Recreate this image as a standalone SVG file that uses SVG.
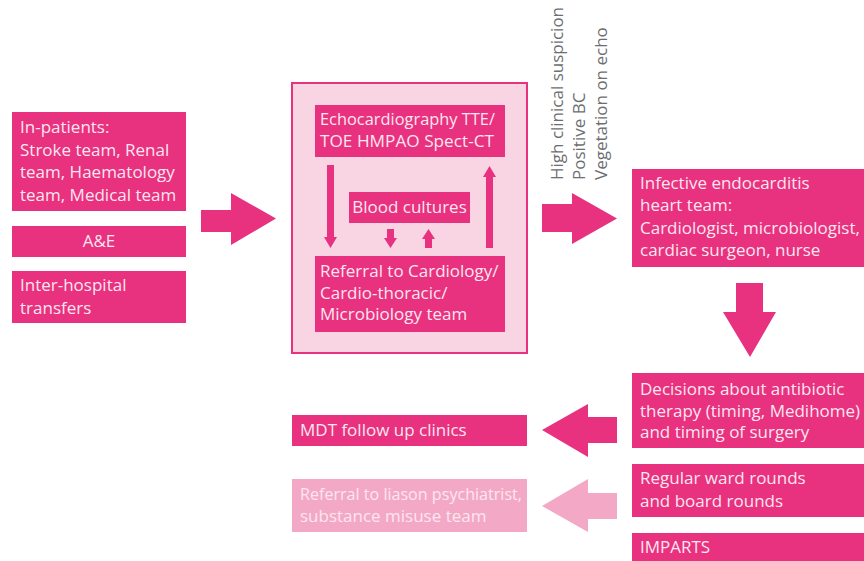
<svg xmlns="http://www.w3.org/2000/svg" width="864" height="561" viewBox="0 0 864 561">
<style>
.b{fill:#e8317f}
.lb{fill:#f3a9c5}
.t{font-family:"Open Sans","Liberation Sans",sans-serif;font-size:17px;fill:#fde6ef}
.g{font-family:"Open Sans","Liberation Sans",sans-serif;font-size:17px;fill:#6d6e71}
.a{fill:#e8317f}
.la{fill:#f3a9c5}
</style>
<rect width="864" height="561" fill="#ffffff"/>
<g id="inpatients"><rect class="b" x="12" y="112" width="174" height="99"/>
<text class="t" x="20" y="133">In-patients:<tspan x="20" dy="22.5">Stroke team, Renal</tspan><tspan x="20" dy="22.5">team, Haematology</tspan><tspan x="20" dy="22.5">team, Medical team</tspan></text></g>
<g id="ae"><rect class="b" x="12" y="226" width="174" height="31"/><text class="t" x="99" y="247" text-anchor="middle">A&amp;E</text></g>
<g id="interhospital"><rect class="b" x="12" y="271" width="174" height="52"/><text class="t" x="20" y="291">Inter-hospital<tspan x="20" dy="22.5">transfers</tspan></text></g>
<g id="workup">
<rect x="292" y="83" width="235" height="270" fill="#f9d5e4" stroke="#e8317f" stroke-width="2"/>
</g>
<g id="echo"><rect class="b" x="315" y="105" width="190" height="52"/><text class="t" x="320" y="125" textLength="175" lengthAdjust="spacingAndGlyphs">Echocardiography TTE/</text><text class="t" x="320" y="146.7" textLength="174" lengthAdjust="spacingAndGlyphs">TOE HMPAO Spect-CT</text></g>
<g id="blood"><rect class="b" x="349" y="192" width="121" height="31"/><text class="t" x="409.5" y="212.5" text-anchor="middle">Blood cultures</text></g>
<g id="referral"><rect class="b" x="315" y="256" width="190" height="76"/><text class="t" x="320" y="277">Referral to Cardiology/<tspan x="320" dy="21.7">Cardio-thoracic/</tspan><tspan x="320" dy="21.7">Microbiology team</tspan></text></g>
<g id="criteria"><text class="g" transform="translate(563,180) rotate(-90)">High clinical suspicion</text><text class="g" transform="translate(585,180) rotate(-90)">Positive BC</text><text class="g" transform="translate(607,180) rotate(-90)">Vegetation on echo</text></g>
<g id="ieteam"><rect class="b" x="632" y="169" width="232" height="98"/><text class="t" x="640" y="189">Infective endocarditis<tspan x="640" dy="22.3">heart team:</tspan><tspan x="640" dy="22.3">Cardiologist, microbiologist,</tspan><tspan x="640" dy="22.3">cardiac surgeon, nurse</tspan></text></g>
<g id="decisions"><rect class="b" x="632" y="373" width="232" height="75"/><text class="t" x="640" y="395">Decisions about antibiotic<tspan x="640" dy="21.7">therapy (timing, Medihome)</tspan><tspan x="640" dy="21.7">and timing of surgery</tspan></text></g>
<g id="wardrounds"><rect class="b" x="632" y="464" width="232" height="53"/><text class="t" x="640" y="484">Regular ward rounds<tspan x="640" dy="22.5">and board rounds</tspan></text></g>
<g id="imparts"><rect class="b" x="632" y="533" width="232" height="28"/><text class="t" x="640" y="553">IMPARTS</text></g>
<g id="mdt"><rect class="b" x="292" y="415" width="235" height="31"/><text class="t" x="300" y="436">MDT follow up clinics</text></g>
<g id="liaison"><rect class="lb" x="292" y="479" width="235" height="53"/><text class="t" x="300" y="500" textLength="222" lengthAdjust="spacingAndGlyphs">Referral to liason psychiatrist,</text><text class="t" x="300" y="521.7">substance misuse team</text></g>
<g id="connectors">
<polygon class="a" points="201,210 231,210 231,193 276,218.5 231,245 231,232 201,232"/>
<polygon class="a" points="542,204 572,204 572,193 617,218.5 572,244 572,232 542,232"/>
<polygon class="a" points="736,283 763,283 763,312 776,312 750,357 723,312 736,312"/>
<polygon class="a" points="617,417 588,417 588,404 542,430 588,457 588,443 617,443"/>
<polygon class="la" points="617,493 588,493 588,479 542,506 588,532 588,519 617,519"/>
<polygon class="a" points="327,165 334,165 334,237 337,237 330.5,248 324,237 327,237"/>
<polygon class="a" points="486,248 493,248 493,177 496,177 489.5,166 483,177 486,177"/>
<polygon class="a" points="387,229 394,229 394,238 397,238 390.5,248 384,238 387,238"/>
<polygon class="a" points="425,248 432,248 432,239 435,239 428.5,229 422,239 425,239"/>
</g>
</svg>
